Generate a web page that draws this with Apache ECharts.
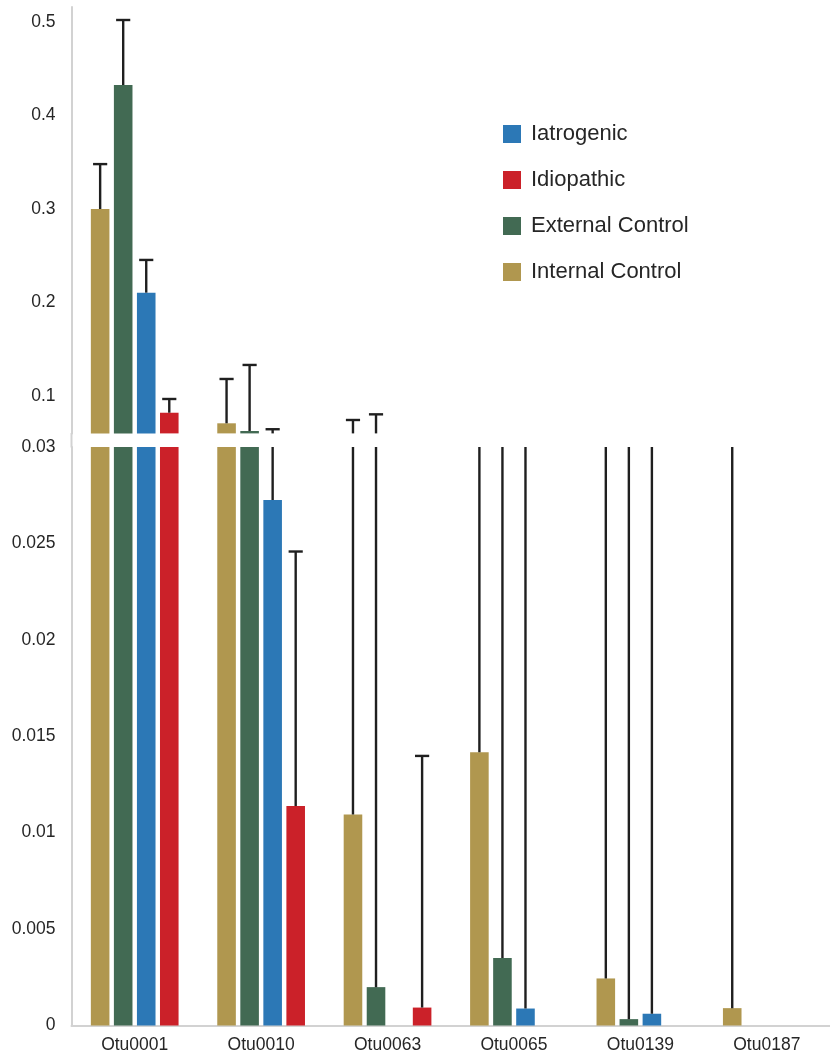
<!DOCTYPE html>
<html>
<head>
<meta charset="utf-8">
<script src="https://cdn.jsdelivr.net/npm/echarts@6/dist/echarts.min.js"></script>
<style>
  html, body { margin: 0; padding: 0; background: #fff; }
  #chart { width: 830px; height: 1059px; }
</style>
</head>
<body>
<div id="chart"></div>
<script>
// Mean relative abundance per OTU and group, with standard deviations.
const categories = ['Otu0001', 'Otu0010', 'Otu0063', 'Otu0065', 'Otu0139', 'Otu0187'];

const internalControl    = [0.300, 0.0708, 0.01094, 0.01417, 0.00244, 0.0009];
const internalControlSd  = [0.048, 0.0474, 0.0634, 0.028, 0.035, 0.040];

const externalControl    = [0.4326, 0.0626, 0.00199, 0.0035, 0.00033, null];
const externalControlSd  = [0.0695, 0.0706, 0.0784, 0.036, 0.033, null];

const iatrogenic         = [0.2105, 0.02725, null, 0.00088, 0.00061, null];
const iatrogenicSd       = [0.035, 0.0372, null, 0.034, 0.031, null];

const idiopathic         = [0.0821, 0.01138, 0.00093, null, null, null];
const idiopathicSd       = [0.0147, 0.0132, 0.01305, null, null, null];

const legendOrder = ['Iatrogenic', 'Idiopathic', 'External Control', 'Internal Control'];

// Groups in bar-slot order within each category.
const groups = [
  { name: 'Internal Control', color: '#B0974F', values: internalControl, sd: internalControlSd },
  { name: 'External Control', color: '#426A53', values: externalControl, sd: externalControlSd },
  { name: 'Iatrogenic',       color: '#2C78B6', values: iatrogenic,      sd: iatrogenicSd },
  { name: 'Idiopathic',       color: '#CB2129', values: idiopathic,      sd: idiopathicSd }
];

const BAR_W = 0.147;   // bar width as a fraction of the category band
const BAR_GAP = 0.24;  // gap between bars as a fraction of bar width
const FONT = '"Liberation Sans", Arial, Helvetica, sans-serif';
const AXIS_GREY = '#d2d2d2';
const TEXT = '#262626';

// Broken value axis: upper panel 0.06–0.516, lower panel 0–0.03.
const grids = [
  { left: 71.5, width: 765.6, top: 7, height: 426.4 },
  { left: 71.5, width: 765.6, top: 447, height: 578.5 }
];

const xAxes = grids.map((g, i) => ({
  type: 'category',
  gridIndex: i,
  data: categories,
  show: i === 1,
  axisLine: { show: true, lineStyle: { color: AXIS_GREY, width: 2 } },
  axisTick: { show: false },
  axisLabel: { color: TEXT, fontSize: 17.5, fontFamily: FONT, margin: 11 }
}));

const yAxes = [
  {
    type: 'value', gridIndex: 0, min: 0.06, max: 0.516, interval: 0.02,
    axisLine: { show: true, lineStyle: { color: AXIS_GREY, width: 2 } },
    axisTick: { show: false },
    splitLine: { show: false },
    axisLabel: {
      color: TEXT, fontSize: 17.5, fontFamily: FONT, margin: 16,
      formatter: v => {
        const t = Math.round(v * 100);
        return t % 10 === 0 ? String(t / 100) : '';
      }
    }
  },
  {
    type: 'value', gridIndex: 1, min: 0, max: 0.03, interval: 0.005,
    axisLine: { show: true, lineStyle: { color: AXIS_GREY, width: 2 } },
    axisTick: { show: false },
    splitLine: { show: false },
    axisLabel: {
      color: TEXT, fontSize: 17.5, fontFamily: FONT, margin: 16,
      formatter: v => String(parseFloat(v.toFixed(3)))
    }
  }
];

function errorRenderer(slot) {
  return function (params, api) {
    const cs = params.coordSys;
    const cat = api.value(0);
    const val = api.value(1);
    const upper = api.value(2);
    const band = api.size([1, 0])[0];
    const pitch = band * BAR_W * (1 + BAR_GAP);
    const x = api.coord([cat, val])[0] + (slot - 1.5) * pitch;
    const yVal = api.coord([cat, val])[1];
    const yUp = api.coord([cat, upper])[1];
    const top = cs.y, bottom = cs.y + cs.height;
    const y1 = Math.max(yUp, top);
    const y2 = Math.min(yVal, bottom);
    const children = [];
    const style = { stroke: '#1f1f1f', lineWidth: 2.4 };
    if (y1 < y2) {
      children.push({ type: 'line', shape: { x1: x, y1: y1, x2: x, y2: y2 }, style: style });
    }
    if (yUp >= top - 0.5 && yUp <= bottom) {
      const half = band * 0.056;
      children.push({ type: 'line', shape: { x1: x - half, y1: yUp, x2: x + half, y2: yUp }, style: style });
    }
    return { type: 'group', children: children };
  };
}

const series = [];
[0, 1].forEach(gi => {
  groups.forEach((g, slot) => {
    series.push({
      name: g.name,
      type: 'bar',
      xAxisIndex: gi,
      yAxisIndex: gi,
      data: g.values.map(v => (v == null ? '-' : v)),
      barWidth: (BAR_W * 100) + '%',
      barGap: (BAR_GAP * 100) + '%',
      clip: true,
      itemStyle: { color: g.color },
      emphasis: { disabled: true },
      animation: false
    });
  });
  groups.forEach((g, slot) => {
    const errData = [];
    g.values.forEach((v, i) => {
      if (v != null && g.sd[i] != null) errData.push([i, v, v + g.sd[i]]);
    });
    series.push({
      name: g.name,
      type: 'custom',
      xAxisIndex: gi,
      yAxisIndex: gi,
      data: errData,
      renderItem: errorRenderer(slot),
      z: 5,
      silent: true,
      animation: false
    });
  });
});

const chart = echarts.init(document.getElementById('chart'), null, { renderer: 'canvas' });
chart.setOption({
  animation: false,
  backgroundColor: '#ffffff',
  grid: grids,
  xAxis: xAxes,
  yAxis: yAxes,
  color: groups.map(g => g.color),
  legend: {
    data: legendOrder.map(n => ({ name: n, icon: 'rect', itemStyle: { color: groups.find(g => g.name === n).color } })),
    orient: 'vertical',
    left: 498,
    top: 118,
    itemWidth: 18,
    itemHeight: 18,
    itemGap: 24,
    textStyle: { color: TEXT, fontSize: 22, fontFamily: FONT, lineHeight: 20, padding: [0, 0, 0, 5] },
    selectedMode: false
  },
  // Continue the value-axis line across the break between the two panels.
  graphic: [{
    type: 'line',
    shape: { x1: 71.5, y1: 433, x2: 71.5, y2: 447.5 },
    style: { stroke: AXIS_GREY, lineWidth: 2 },
    silent: true
  }],
  series: series
});
</script>
</body>
</html>
